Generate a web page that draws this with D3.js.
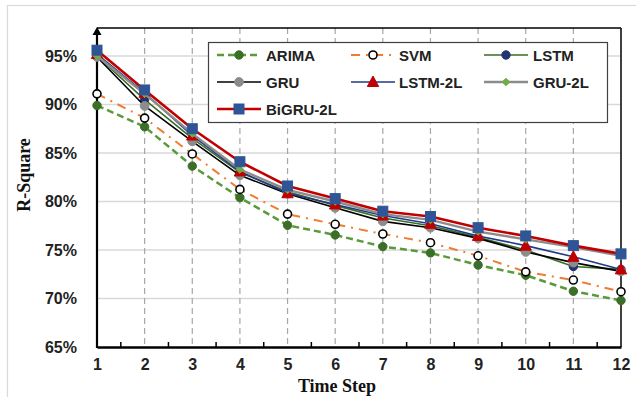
<!DOCTYPE html>
<html><head><meta charset="utf-8">
<script src="https://cdn.jsdelivr.net/npm/d3@7"></script>
<style>
html,body{margin:0;padding:0;background:#fff;}
svg{display:block;}
</style></head>
<body>
<script>
// ---- data ----
const timeSteps = [1,2,3,4,5,6,7,8,9,10,11,12];
const arima   = [89.9, 87.7, 83.65, 80.4, 77.55, 76.55, 75.35, 74.7, 73.45, 72.4, 70.75, 69.8];
const svm     = [91.1, 88.6, 84.9, 81.25, 78.7, 77.65, 76.65, 75.75, 74.4, 72.75, 71.9, 70.7];
const lstm    = [95.0, 90.5, 86.5, 83.0, 81.0, 79.6, 78.3, 77.5, 76.3, 75.0, 73.3, 73.0];
const gru     = [94.9, 89.85, 86.2, 82.7, 80.8, 79.35, 77.95, 77.3, 76.2, 74.8, 73.7, 72.8];
const lstm2l  = [95.2, 91.2, 86.8, 83.1, 80.85, 79.7, 78.55, 77.7, 76.45, 75.45, 74.3, 73.0];
const gru2l   = [95.0, 91.1, 87.0, 83.3, 81.2, 80.0, 78.7, 78.1, 76.9, 76.1, 75.3, 74.4];
const bigru2l = [95.6, 91.5, 87.5, 84.1, 81.6, 80.3, 79.0, 78.45, 77.3, 76.45, 75.45, 74.6];
const yTicks  = [65, 70, 75, 80, 85, 90, 95];
const seriesNames = ["ARIMA","SVM","LSTM","GRU","LSTM-2L","GRU-2L","BiGRU-2L"];

// ---- styles ----
const styles = {
  "ARIMA":   {vals: arima,   line:"#5A9A3A", width:2.5, dash:"7,4", marker:"circle", mfill:"#3B6E26", mstroke:"#3B6E26", msize:4.2},
  "SVM":     {vals: svm,     line:"#ED7D31", width:2,   dash:"9,6,2,6", marker:"circle", mfill:"#ffffff", mstroke:"#000000", msize:4, msw:1.6},
  "LSTM":    {vals: lstm,    line:"#3A6B25", width:1.6, dash:null, marker:"circle", mfill:"#1F3470", mstroke:"#1F3470", msize:4.2},
  "GRU":     {vals: gru,     line:"#000000", width:1.6, dash:null, marker:"circle", mfill:"#8C8C8C", mstroke:"#8C8C8C", msize:4.4},
  "LSTM-2L": {vals: lstm2l,  line:"#1F3A8A", width:1.6, dash:null, marker:"triangle", mfill:"#C00000", mstroke:"#C00000", msize:6},
  "GRU-2L":  {vals: gru2l,   line:"#8C8C8C", width:2.4, dash:null, marker:"diamond", mfill:"#70AD47", mstroke:"#70AD47", msize:3.8},
  "BiGRU-2L":{vals: bigru2l, line:"#C00000", width:2.6, dash:null, marker:"square", mfill:"#2F5597", mstroke:"#2F5597", msize:5}
};

const W = 636, H = 397;
const svg = d3.select("body").append("svg").attr("width", W).attr("height", H);

// outer border
svg.append("rect").attr("x",7.5).attr("y",5.5).attr("width",640).attr("height",400)
  .attr("fill","#fff").attr("stroke","#d9d9d9").attr("stroke-width",1.2);

const L = 97, R = 621, T = 28, B = 347;
const x = d3.scaleLinear().domain([1,12]).range([L,R]);
const y = d3.scaleLinear().domain([65, 65 + (B-T)/9.7]).range([B,T]);

// horizontal gridlines
svg.append("g").selectAll("line").data(yTicks.filter(d=>d>65)).join("line")
  .attr("x1",L).attr("x2",R).attr("y1",d=>y(d)).attr("y2",d=>y(d))
  .attr("stroke","#d9d9d9").attr("stroke-width",1.3);

// vertical dashed gridlines
svg.append("g").selectAll("line").data(timeSteps.slice(1,-1)).join("line")
  .attr("x1",d=>x(d)).attr("x2",d=>x(d)).attr("y1",T).attr("y2",B)
  .attr("stroke","#a6a6a6").attr("stroke-width",1.2).attr("stroke-dasharray","6,4");

// frame top/right
svg.append("line").attr("x1",L).attr("x2",R).attr("y1",T).attr("y2",T).attr("stroke","#000").attr("stroke-width",1.5);
svg.append("line").attr("x1",R).attr("x2",R).attr("y1",T).attr("y2",B).attr("stroke","#000").attr("stroke-width",1.5);

// x axis
const xAxis = d3.axisBottom(x).tickValues(timeSteps).tickSize(0).tickPadding(12).tickFormat(d3.format("d"));
const gx = svg.append("g").attr("transform",`translate(0,${B})`).call(xAxis);
gx.select(".domain").attr("stroke","#000").attr("stroke-width",2.5);
gx.selectAll("text").attr("font-family","'Liberation Sans', Arial, sans-serif").attr("font-weight","bold")
  .attr("font-size","16px").attr("fill","#222");
// minor ticks at half steps
svg.append("g").selectAll("line").data(timeSteps.slice(0,-1).map(d=>d+0.5)).join("line")
  .attr("x1",d=>x(d)).attr("x2",d=>x(d)).attr("y1",B-5).attr("y2",B)
  .attr("stroke","#000").attr("stroke-width",1.5);

// y axis
const yAxis = d3.axisLeft(y).tickValues(yTicks).tickSize(0).tickPadding(20).tickFormat(d=>d+"%");
const gy = svg.append("g").attr("transform",`translate(${L},0)`).call(yAxis);
gy.select(".domain").remove();
gy.selectAll("text").attr("font-family","'Liberation Sans', Arial, sans-serif").attr("font-weight","bold")
  .attr("font-size","16px").attr("fill","#222");
svg.append("line").attr("x1",L).attr("x2",L).attr("y1",B+1).attr("y2",T+6).attr("stroke","#000").attr("stroke-width",2.2);
svg.append("path").attr("d",`M${L},${T-1} L${L-4.5},${T+7} L${L+4.5},${T+7} Z`).attr("fill","#000");

// axis titles
svg.append("text").attr("x",337).attr("y",392).attr("text-anchor","middle")
  .attr("font-family","'Liberation Serif','Times New Roman',serif").attr("font-weight","bold")
  .attr("font-size","18px").attr("fill","#111").text("Time Step");
svg.append("text").attr("transform","translate(30,175) rotate(-90)").attr("text-anchor","middle")
  .attr("font-family","'Liberation Serif','Times New Roman',serif").attr("font-weight","bold")
  .attr("font-size","18px").attr("fill","#111").text("R-Square");

// markers
function drawMarker(g, type, cx, cy, s){
  let el;
  if(type==="circle") el = g.append("circle").attr("cx",cx).attr("cy",cy).attr("r",s);
  else if(type==="square") el = g.append("rect").attr("x",cx-s).attr("y",cy-s).attr("width",2*s).attr("height",2*s);
  else if(type==="triangle") el = g.append("path").attr("d",`M${cx},${cy-s} L${cx+s*0.95},${cy+s*0.75} L${cx-s*0.95},${cy+s*0.75} Z`);
  else if(type==="diamond") el = g.append("path").attr("d",`M${cx},${cy-s} L${cx+s},${cy} L${cx},${cy+s} L${cx-s},${cy} Z`);
  return el;
}

const line = d3.line().x((d,i)=>x(timeSteps[i])).y(d=>y(d));
const plot = svg.append("g");
seriesNames.forEach(name=>{
  const st = styles[name];
  const g = plot.append("g");
  g.append("path").datum(st.vals).attr("d",line).attr("fill","none")
    .attr("stroke",st.line).attr("stroke-width",st.width)
    .attr("stroke-dasharray",st.dash).attr("stroke-linejoin","round");
  st.vals.forEach((v,i)=>{
    drawMarker(g, st.marker, x(timeSteps[i]), y(v), st.msize)
      .attr("fill",st.mfill).attr("stroke",st.mstroke).attr("stroke-width",st.msw||1);
  });
});

// legend
const lg = svg.append("g");
lg.append("rect").attr("x",208.5).attr("y",42.5).attr("width",399).attr("height",80)
  .attr("fill","#fff").attr("stroke","#404040").attr("stroke-width",1.2);
const colX = [{lx:217, tx:266},{lx:351, tx:399},{lx:484, tx:533}];
const rowY = [55, 82, 109];
seriesNames.forEach((name,i)=>{
  const st = styles[name];
  const c = colX[i%3], ry = rowY[Math.floor(i/3)];
  const len = 44;
  lg.append("line").attr("x1",c.lx).attr("x2",c.lx+len).attr("y1",ry).attr("y2",ry)
    .attr("stroke",st.line).attr("stroke-width",st.width).attr("stroke-dasharray",st.dash);
  drawMarker(lg, st.marker, c.lx+len/2, ry, st.msize)
    .attr("fill",st.mfill).attr("stroke",st.mstroke).attr("stroke-width",st.msw||1);
  lg.append("text").attr("x",c.tx).attr("y",ry+5.5)
    .attr("font-family","'Liberation Sans', Arial, sans-serif").attr("font-weight","bold")
    .attr("font-size","15px").attr("fill","#222").text(name);
});
</script>
</body></html>
